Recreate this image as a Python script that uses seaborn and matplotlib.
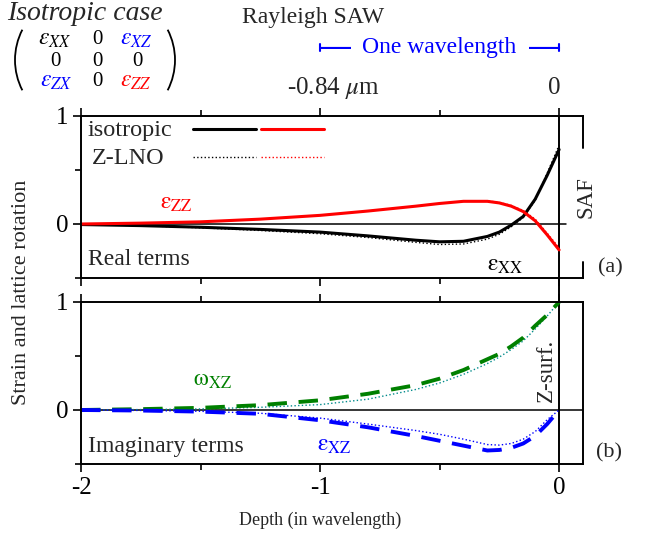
import matplotlib
matplotlib.use('Agg')
import matplotlib.pyplot as plt
import seaborn as sns
from matplotlib.patches import Arc
from matplotlib.legend_handler import HandlerTuple
from matplotlib.ticker import MultipleLocator

# depth below the surface, in wavelengths
depth = [-2.0, -1.75, -1.5, -1.25, -1.0, -0.8, -0.6, -0.5, -0.4, -0.3,
         -0.25, -0.2, -0.15, -0.1, -0.05, 0.0]

# (a) real terms
exx_iso = [-0.005, -0.015, -0.03, -0.05, -0.075, -0.11, -0.15, -0.165, -0.16,
           -0.115, -0.075, -0.01, 0.07, 0.23, 0.45, 0.69]
exx_lno = [-0.005, -0.015, -0.035, -0.06, -0.09, -0.125, -0.17, -0.19, -0.185,
           -0.14, -0.095, -0.025, 0.06, 0.22, 0.47, 0.73]
ezz_iso = [0.0, 0.008, 0.02, 0.045, 0.08, 0.12, 0.165, 0.19, 0.21, 0.21,
           0.195, 0.165, 0.115, 0.03, -0.1, -0.24]
ezz_lno = [0.0, 0.008, 0.02, 0.045, 0.08, 0.12, 0.165, 0.19, 0.21, 0.215,
           0.2, 0.172, 0.125, 0.045, -0.085, -0.22]

# (b) imaginary terms
wxz_iso = [0.0, 0.008, 0.02, 0.045, 0.09, 0.15, 0.23, 0.29, 0.37, 0.47,
           0.52, 0.59, 0.67, 0.78, 0.88, 1.0]
wxz_lno = [0.0, 0.004, 0.01, 0.025, 0.05, 0.1, 0.19, 0.25, 0.33, 0.43,
           0.49, 0.56, 0.64, 0.75, 0.87, 1.0]
exz_iso = [0.0, -0.005, -0.015, -0.035, -0.095, -0.16, -0.24, -0.285, -0.33,
           -0.375, -0.37, -0.35, -0.31, -0.24, -0.13, 0.0]
exz_lno = [0.0, -0.004, -0.012, -0.03, -0.075, -0.13, -0.19, -0.225, -0.27,
           -0.32, -0.325, -0.31, -0.27, -0.2, -0.09, 0.0]

legend_labels = ['isotropic', 'Z-LNO']

sns.set_style('ticks')
plt.rcParams['font.family'] = ['Liberation Serif', 'DejaVu Serif']
plt.rcParams['mathtext.fontset'] = 'stix'
plt.rcParams['axes.unicode_minus'] = False

W, H = 652, 539
fig = plt.figure(figsize=(W / 100, H / 100), dpi=100)
ax_a = fig.add_axes([81 / W, 1 - 278 / H, 502 / W, 162 / H])
ax_b = fig.add_axes([81 / W, 1 - 464 / H, 502 / W, 162 / H])

for ax in (ax_a, ax_b):
    ax.set_xlim(-2, 0.1)
    ax.set_ylim(-0.5, 1)
    ax.set_yticks([0, 1])
    ax.yaxis.set_minor_locator(MultipleLocator(0.5))
    ax.xaxis.set_major_locator(MultipleLocator(1))
    ax.xaxis.set_minor_locator(MultipleLocator(0.5))
    ax.tick_params(which='both', direction='out', top=True, bottom=True,
                   left=True, right=False, width=1.2, colors='black',
                   labelsize=18, pad=3)
    ax.tick_params(which='major', length=6)
    ax.tick_params(which='minor', length=4.5)
    for sp in ax.spines.values():
        sp.set_linewidth(1.4)
        sp.set_color('black')
    ax.set_xlabel('')
    ax.set_ylabel('')
ax_a.tick_params(labelbottom=False)

# ---- panel (a)
ax_a.axhline(0, xmin=0, xmax=2.03 / 2.1, color='black', lw=1.1)
ax_a.axvline(0, color='black', lw=1.4)
sns.lineplot(x=depth, y=exx_lno, ax=ax_a, color='black', lw=1.0, linestyle=':')
l_xx_lno = ax_a.lines[-1]
sns.lineplot(x=depth, y=ezz_lno, ax=ax_a, color='red', lw=1.0, linestyle=':')
l_zz_lno = ax_a.lines[-1]
sns.lineplot(x=depth, y=exx_iso, ax=ax_a, color='black', lw=2.2)
l_xx_iso = ax_a.lines[-1]
sns.lineplot(x=depth, y=ezz_iso, ax=ax_a, color='red', lw=2.2)
l_zz_iso = ax_a.lines[-1]

# legend: line samples from the library, names written to their left
ax_a.legend([(l_xx_iso, l_zz_iso), (l_xx_lno, l_zz_lno)], ['', ''],
            handler_map={tuple: HandlerTuple(ndivide=None, pad=0.22)},
            handlelength=5.55, handletextpad=0, frameon=False,
            loc='center left', bbox_to_anchor=(0.223, 0.818),
            borderaxespad=0, borderpad=0, fontsize=17, labelspacing=0.25)
ax_a.text(-1.971, 0.87, legend_labels[0], fontsize=17.5, ha='left', va='center')
ax_a.text(-1.954, 0.61, legend_labels[1], fontsize=17.5, ha='left', va='center')

ax_a.text(-1.60, 0.19, r'$\mathrm{\varepsilon}_\mathrm{ZZ}$', color='red',
          fontsize=17, ha='center', va='center')
ax_a.text(-0.226, -0.38, r'$\mathrm{\varepsilon}_\mathrm{XX}$', color='black',
          fontsize=17, ha='center', va='center')
ax_a.text(-1.97, -0.33, 'Real terms', fontsize=17, ha='left', va='center')

# broken right spine around "SAF"
ax_a.spines['right'].set_visible(False)
ax_a.plot([1, 1], [0.80, 1.0], transform=ax_a.transAxes, color='black',
          lw=1.4, clip_on=False)
ax_a.plot([1, 1], [0.0, 0.10], transform=ax_a.transAxes, color='black',
          lw=1.4, clip_on=False)
ax_a.text(1.006, 0.5, 'SAF', transform=ax_a.transAxes, rotation=90,
          fontsize=16.5, ha='center', va='center')

# top scale: one wavelength
xt = ax_a.get_xaxis_transform()
ax_a.annotate('', xy=(0, 1.42), xytext=(-1, 1.42), xycoords=xt, textcoords=xt,
              arrowprops=dict(arrowstyle='|-|,widthA=0.25,widthB=0.25',
                              color='blue', lw=1.5, shrinkA=0, shrinkB=0),
              annotation_clip=False)
ax_a.text(-0.5, 1.42, 'One wavelength', transform=xt, color='blue',
          fontsize=17, ha='center', va='center',
          bbox=dict(boxstyle='square,pad=0.5', facecolor='white', edgecolor='none'))
ax_a.text(-0.945, 1.173, r'-0.84 $\mu$m', transform=xt, fontsize=18,
          ha='center', va='center')
ax_a.text(-0.02, 1.173, '0', transform=xt, fontsize=18, ha='center', va='center')

# ---- panel (b)
ax_b.axhline(0, color='black', lw=1.1)
ax_b.axvline(0, ymin=0, ymax=1.15, color='black', lw=1.4, clip_on=False)
sns.lineplot(x=depth, y=wxz_lno, ax=ax_b, color='darkcyan', lw=1.0, linestyle=':')
sns.lineplot(x=depth, y=exz_lno, ax=ax_b, color='blue', lw=1.0, linestyle=':')
sns.lineplot(x=depth, y=wxz_iso, ax=ax_b, color='green', lw=2.8,
             dashes=(5, 3))
sns.lineplot(x=depth, y=exz_iso, ax=ax_b, color='blue', lw=2.8,
             dashes=(5, 3))

ax_b.text(-1.45, 0.27, r'$\mathrm{\omega}_\mathrm{XZ}$', color='green',
          fontsize=17, ha='center', va='center')
ax_b.text(-0.94, -0.33, r'$\mathrm{\varepsilon}_\mathrm{XZ}$', color='blue',
          fontsize=17, ha='center', va='center')
ax_b.text(-1.97, -0.34, 'Imaginary terms', fontsize=17, ha='left', va='center')
ax_b.text(-0.054, 0.58, 'Z-surf.', transform=ax_b.get_xaxis_transform(),
          rotation=90, fontsize=16.5, ha='center', va='center')

# ---- figure texts
fig.text(610 / W, 1 - 268 / H, '(a)', fontsize=16, ha='center', va='center')
fig.text(609 / W, 1 - 453 / H, '(b)', fontsize=16, ha='center', va='center')
fig.text(22 / W, 1 - 292 / H, 'Strain and lattice rotation', rotation=90,
         fontsize=16, ha='center', va='center')
fig.text(320 / W, 1 - 520 / H, 'Depth (in wavelength)', fontsize=13,
         ha='center', va='center')
fig.text(313 / W, 1 - 18 / H, 'Rayleigh SAW', fontsize=17, ha='center', va='center')
fig.text(85 / W, 1 - 13 / H, 'Isotropic case', fontsize=20, style='italic',
         ha='center', va='center')

# strain tensor matrix
cells = [(55, 40, r'$\epsilon_{XX}$', 'black'), (97, 40, '0', 'black'),
         (136, 40, r'$\epsilon_{XZ}$', 'blue'),
         (55, 61, '0', 'black'), (97, 61, '0', 'black'), (137, 61, '0', 'black'),
         (56, 82, r'$\epsilon_{ZX}$', 'blue'), (97, 82, '0', 'black'),
         (136, 82, r'$\epsilon_{ZZ}$', 'red')]
for px, py, s, c in cells:
    size = 15 if s == '0' else 17
    fig.text(px / W, 1 - py / H, s, color=c, fontsize=size, ha='center', va='center')
r = 66
fig.add_artist(Arc(((15 + r) / W, 1 - 60 / H), 2 * r / W, 2 * r / H,
                   theta1=148, theta2=212, transform=fig.transFigure,
                   color='black', lw=1.3))
fig.add_artist(Arc(((175 - r) / W, 1 - 60 / H), 2 * r / W, 2 * r / H,
                   theta1=-32, theta2=32, transform=fig.transFigure,
                   color='black', lw=1.3))

fig.savefig('out.png', dpi=100)
